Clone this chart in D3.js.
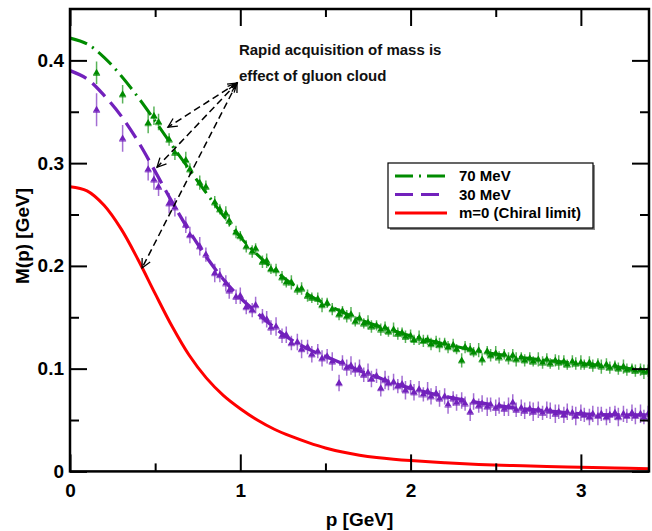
<!DOCTYPE html>
<html><head><meta charset="utf-8">
<script src="https://cdn.jsdelivr.net/npm/d3@7"></script>
<style>
html,body{margin:0;padding:0;background:#fff;}
svg{display:block;font-family:"Liberation Sans",Arial,Helvetica,sans-serif;font-weight:bold;}
</style></head>
<body>
<svg id="chart" width="652" height="531"></svg>
<script>
// ---- data ----
const xTicksMajor = [0, 1, 2, 3];
const xTickLabels = ["0", "1", "2", "3"];
const xTicksMinor = [0.5, 1.5, 2.5];
const yTicksMajor = [0, 0.1, 0.2, 0.3, 0.4];
const yTickLabels = ["0", "0.1", "0.2", "0.3", "0.4"];
const yTicksMinor = [0.05, 0.15, 0.25, 0.35];

const seriesNames = ["70 MeV", "30 MeV", "m=0 (Chiral limit)"];

// curves (knots)
const curveP = [0,0.1,0.2,0.3,0.4,0.5,0.6,0.7,0.8,0.9,1.0,1.1,1.2,1.3,1.4,1.5,1.6,1.7,1.8,1.9,2.0,2.2,2.4,2.6,2.8,3.0,3.2,3.4];
const curve70 = [0.4217,0.416,0.403,0.385,0.364,0.341,0.317,0.294,0.271,0.249,0.228,0.211,0.196,0.183,0.172,0.163,0.155,0.148,0.142,0.137,0.132,0.124,0.117,0.112,0.108,0.105,0.102,0.097];
const curve30 = [0.390,0.382,0.366,0.346,0.321,0.292,0.262,0.234,0.209,0.187,0.169,0.154,0.140,0.128,0.119,0.112,0.105,0.098,0.092,0.086,0.081,0.073,0.067,0.062,0.059,0.056,0.055,0.055];
const curve0 = [0.277,0.273,0.259,0.236,0.206,0.173,0.141,0.113,0.091,0.074,0.061,0.050,0.041,0.034,0.028,0.0228,0.0188,0.0158,0.0135,0.0118,0.0105,0.0085,0.0068,0.0057,0.0048,0.0040,0.0033,0.0026];

// lattice points
const latP = [0.156,0.309,0.459,0.493,0.520,0.582,0.616,0.680,0.704,0.762,0.798,0.850,0.880,0.915,0.935,0.975,1.000,1.035,1.070,1.090,
1.130,1.155,1.180,1.210,1.245,1.270,1.300,1.335,1.360,1.395,1.420,1.455,1.480,1.510,1.540,1.580,1.600,1.625,1.650,1.675,
1.700,1.725,1.750,1.770,1.800,1.825,1.850,1.870,1.900,1.925,1.950,1.970,2.000,2.020,2.050,2.075,2.100,2.120,2.150,2.170,
2.200,2.220,2.250,2.270,2.300,2.320,2.350,2.370,2.400,2.420,2.450,2.470,2.500,2.520,2.550,2.575,2.600,2.620,2.650,2.670,
2.700,2.720,2.750,2.775,2.800,2.820,2.850,2.870,2.900,2.920,2.950,2.970,3.000,3.020,3.050,3.070,3.100,3.120,3.150,3.170,
3.200,3.220,3.250,3.270,3.300,3.320,3.350,3.370,3.395];
const lat70 = [0.388,0.367,0.339,0.346,0.340,0.323,0.310,0.303,0.294,0.281,0.277,0.262,0.255,0.251,0.244,0.233,0.229,0.219,0.214,0.217,
0.204,0.205,0.197,0.196,0.189,0.184,0.184,0.177,0.178,0.171,0.169,0.168,0.162,0.164,0.158,0.153,0.156,0.151,0.153,0.146,
0.149,0.144,0.145,0.141,0.142,0.138,0.140,0.136,0.138,0.134,0.135,0.131,0.132,0.128,0.130,0.127,0.128,0.124,0.126,0.123,
0.125,0.121,0.123,0.119,0.108,0.121,0.119,0.116,0.118,0.109,0.117,0.113,0.115,0.111,0.114,0.110,0.113,0.109,0.111,0.108,
0.110,0.107,0.109,0.106,0.109,0.105,0.108,0.106,0.107,0.104,0.107,0.105,0.106,0.104,0.106,0.103,0.105,0.102,0.104,0.101,
0.103,0.100,0.102,0.099,0.100,0.098,0.099,0.097,0.098];
const err70 = [0.011,0.009,0.010,0.009,0.008,0.006,0.007,0.008,0.006,0.007,0.006,0.006,0.005,0.007,0.006,0.006,0.005,0.006,0.006,0.005,
0.006,0.007,0.005,0.006,0.006,0.005,0.007,0.005,0.006,0.006,0.005,0.006,0.007,0.005,0.006,0.006,0.005,0.006,0.007,0.005,
0.006,0.005,0.007,0.006,0.005,0.006,0.006,0.005,0.007,0.006,0.005,0.006,0.006,0.005,0.007,0.006,0.005,0.006,0.006,0.007,
0.005,0.006,0.006,0.005,0.007,0.006,0.006,0.005,0.007,0.006,0.005,0.006,0.007,0.006,0.005,0.006,0.006,0.007,0.005,0.006,
0.006,0.005,0.007,0.006,0.006,0.005,0.006,0.007,0.006,0.005,0.006,0.006,0.007,0.005,0.006,0.006,0.005,0.007,0.006,0.006,
0.005,0.006,0.007,0.006,0.005,0.006,0.006,0.007,0.006];
const lat30 = [0.352,0.324,0.294,0.284,0.277,0.261,0.257,0.240,0.230,0.219,0.211,0.193,0.191,0.183,0.176,0.170,0.171,0.160,0.157,0.162,
0.151,0.148,0.140,0.141,0.132,0.133,0.125,0.126,0.119,0.121,0.114,0.117,0.110,0.112,0.107,0.086,0.106,0.101,0.103,0.099,
0.101,0.094,0.096,0.090,0.093,0.081,0.089,0.086,0.087,0.083,0.085,0.079,0.082,0.077,0.080,0.075,0.078,0.073,0.076,0.071,
0.073,0.065,0.071,0.067,0.069,0.066,0.058,0.068,0.064,0.066,0.063,0.065,0.062,0.064,0.061,0.063,0.067,0.060,0.062,0.059,
0.061,0.058,0.060,0.057,0.060,0.059,0.056,0.058,0.055,0.058,0.057,0.054,0.057,0.055,0.053,0.056,0.054,0.056,0.053,0.055,
0.057,0.053,0.056,0.054,0.057,0.054,0.056,0.053,0.056];
const err30 = [0.016,0.013,0.011,0.010,0.009,0.010,0.009,0.008,0.008,0.009,0.007,0.009,0.007,0.008,0.008,0.007,0.008,0.007,0.007,0.008,
0.007,0.008,0.007,0.009,0.007,0.008,0.007,0.008,0.009,0.007,0.008,0.007,0.008,0.007,0.009,0.008,0.007,0.008,0.009,0.007,
0.008,0.007,0.009,0.008,0.007,0.008,0.009,0.007,0.008,0.007,0.008,0.009,0.007,0.008,0.008,0.007,0.009,0.008,0.007,0.008,
0.008,0.009,0.007,0.008,0.008,0.007,0.009,0.008,0.007,0.008,0.009,0.007,0.008,0.008,0.007,0.009,0.008,0.007,0.008,0.008,
0.007,0.009,0.008,0.007,0.008,0.008,0.009,0.007,0.008,0.008,0.007,0.009,0.008,0.007,0.008,0.008,0.009,0.007,0.008,0.008,
0.007,0.009,0.008,0.007,0.008,0.008,0.009,0.007,0.008];

const annotLines = ["Rapid acquisition of mass is", "effect of gluon cloud"];
const annotTextPos = [0.992, 0.405];           // data coords of first text line
const arrowFrom = [0.981, 0.378];
const arrowTo = [[0.575, 0.335], [0.511, 0.296], [0.423, 0.198]];

// ---- drawing ----
const svg = d3.select("#chart");
const L = 70, R = 649, T = 9, B = 471.4;
const x = d3.scaleLinear().domain([0, 3.4]).range([L, R]);
const y = d3.scaleLinear().domain([0, 0.45]).range([B, T]);

const colors = ["#008b00", "#7221bc", "#ff0000"];
const dashes = ["18,6,2,6", "18,8", null];

const defs = svg.append("defs");
defs.append("clipPath").attr("id", "clip").append("rect")
  .attr("x", L).attr("y", T).attr("width", R - L).attr("height", B - T);
defs.append("marker").attr("id", "arr").attr("viewBox", "-1 -6 12 12")
  .attr("refX", 9).attr("refY", 0).attr("markerWidth", 12).attr("markerHeight", 12)
  .attr("markerUnits", "userSpaceOnUse").attr("orient", "auto-start-reverse")
  .append("path").attr("d", "M0,-4.5L9,0L0,4.5").attr("fill", "none")
  .attr("stroke", "#000").attr("stroke-width", 1.3);

const plot = svg.append("g").attr("clip-path", "url(#clip)");

// curves
const line = d3.line().x(d => x(d[0])).y(d => y(d[1])).curve(d3.curveCatmullRom.alpha(0.5));
[curve0, curve30, curve70].forEach((c, k) => {
  const idx = 2 - k;
  plot.append("path")
    .datum(curveP.map((p, i) => [p, c[i]]))
    .attr("d", line).attr("fill", "none")
    .attr("stroke", colors[idx]).attr("stroke-width", idx === 1 ? 3.3 : 3)
    .attr("stroke-dasharray", dashes[idx]);
});

// lattice points
const tri = d3.symbol().type(d3.symbolTriangle).size(21);
function drawPoints(vals, errs, color) {
  const g = plot.append("g");
  latP.forEach((p, i) => {
    const px = x(p), py = y(vals[i]);
    g.append("line").attr("x1", px).attr("x2", px)
      .attr("y1", y(vals[i] - errs[i])).attr("y2", y(vals[i] + errs[i]))
      .attr("stroke", color).attr("stroke-width", 1.5).attr("stroke-opacity", 0.65);
    g.append("line").attr("x1", px - 3.5).attr("x2", px + 3.5).attr("y1", py + 2.5).attr("y2", py + 2.5)
      .attr("stroke", color).attr("stroke-width", 1.4).attr("stroke-opacity", 0.65);
    g.append("path").attr("d", tri).attr("transform", `translate(${px},${py})`)
      .attr("fill", color);
  });
}
drawPoints(lat30, err30, colors[1]);
drawPoints(lat70, err70, colors[0]);

// axes
function styleAxis(g) {
  g.select(".domain").remove();
  g.selectAll(".tick line").attr("stroke", "#000").attr("stroke-width", 2);
  g.selectAll(".tick text").attr("fill", "#000").style("font-size", "19px")
    .style("font-weight", "bold").style("font-family", "'Liberation Sans',Arial,sans-serif");
}
svg.append("g").attr("transform", `translate(0,${B})`)
  .call(d3.axisBottom(x).tickValues(xTicksMajor).tickSize(-17).tickPadding(12)
    .tickFormat((d, i) => xTickLabels[i])).call(styleAxis);
svg.append("g").attr("transform", `translate(0,${B})`)
  .call(d3.axisBottom(x).tickValues(xTicksMinor).tickSize(-8).tickFormat("")).call(styleAxis);
svg.append("g").attr("transform", `translate(0,${T})`)
  .call(d3.axisTop(x).tickValues(xTicksMajor).tickSize(-17).tickFormat("")).call(styleAxis);
svg.append("g").attr("transform", `translate(0,${T})`)
  .call(d3.axisTop(x).tickValues(xTicksMinor).tickSize(-8).tickFormat("")).call(styleAxis);
svg.append("g").attr("transform", `translate(${L},0)`)
  .call(d3.axisLeft(y).tickValues(yTicksMajor).tickSize(-17).tickPadding(6)
    .tickFormat((d, i) => yTickLabels[i])).call(styleAxis);
svg.append("g").attr("transform", `translate(${L},0)`)
  .call(d3.axisLeft(y).tickValues(yTicksMinor).tickSize(-9).tickFormat("")).call(styleAxis);
svg.append("g").attr("transform", `translate(${R},0)`)
  .call(d3.axisRight(y).tickValues(yTicksMajor).tickSize(-17).tickFormat("")).call(styleAxis);
svg.append("g").attr("transform", `translate(${R},0)`)
  .call(d3.axisRight(y).tickValues(yTicksMinor).tickSize(-9).tickFormat("")).call(styleAxis);

svg.append("rect").attr("x", L).attr("y", T).attr("width", R - L).attr("height", B - T)
  .attr("fill", "none").attr("stroke", "#000").attr("stroke-width", 2.5);

// axis titles
svg.append("text").attr("x", (L + R) / 2).attr("y", 526).attr("text-anchor", "middle")
  .style("font-size", "19px").text("p [GeV]");
svg.append("text").attr("transform", "translate(29,236) rotate(-90)").attr("text-anchor", "middle")
  .style("font-size", "19px").text("M(p) [GeV]");

// annotation
annotLines.forEach((t, i) => {
  svg.append("text").attr("x", x(annotTextPos[0])).attr("y", y(annotTextPos[1]) + i * 26)
    .style("font-size", "15px").attr("fill", "#111").text(t);
});
arrowTo.forEach(a => {
  svg.append("line").attr("x1", x(arrowFrom[0])).attr("y1", y(arrowFrom[1]))
    .attr("x2", x(a[0])).attr("y2", y(a[1]))
    .attr("stroke", "#000").attr("stroke-width", 1.5).attr("stroke-dasharray", "7,4")
    .attr("marker-start", "url(#arr)").attr("marker-end", "url(#arr)");
});

// legend
const lg = svg.append("g").attr("transform", "translate(388,163)");
lg.append("rect").attr("x", 2).attr("y", 2).attr("width", 205).attr("height", 65).attr("fill", "#888");
lg.append("rect").attr("x", 0).attr("y", 0).attr("width", 205).attr("height", 65)
  .attr("fill", "#fff").attr("stroke", "#000").attr("stroke-width", 1.2);
seriesNames.forEach((n, i) => {
  const yy = 13 + i * 18.5;
  lg.append("line").attr("x1", 7).attr("x2", 59).attr("y1", yy).attr("y2", yy)
    .attr("stroke", colors[i]).attr("stroke-width", 3).attr("stroke-dasharray", dashes[i]);
  lg.append("text").attr("x", 71).attr("y", yy).attr("dy", "0.36em")
    .style("font-size", "15px").text(n);
});
</script>
</body></html>
